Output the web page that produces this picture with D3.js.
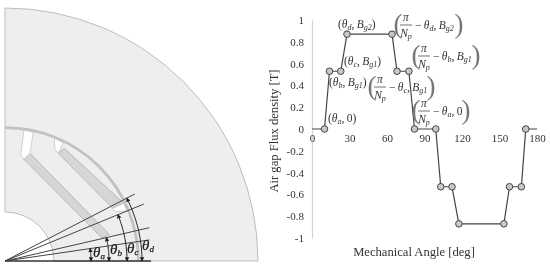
<!DOCTYPE html>
<html>
<head>
<meta charset="utf-8">
<script src="https://cdn.jsdelivr.net/npm/d3@7"></script>
<style>
  html, body { margin: 0; padding: 0; background: #fff; }
  #canvas { display: block; filter: blur(0.35px); }
  text { font-family: "Liberation Serif", serif; fill: #333; }
</style>
</head>
<body>
<svg id="canvas" width="550" height="268"></svg>
<script>
// flux density waveform
const angles = [0, 10, 14, 23, 28, 64, 68, 77.5, 82, 99, 103, 112, 117.5, 153.5, 158, 167.5, 171, 180];
const flux = [0, 0, 0.53, 0.53, 0.87, 0.87, 0.53, 0.53, 0, 0, -0.53, -0.53, -0.87, -0.87, -0.53, -0.53, 0, 0];
const markerIdx = [1, 2, 3, 4, 5, 6, 7, 8, 9, 10, 11, 12, 13, 14, 15, 16];
const xTicks = [0, 30, 60, 90, 120, 150, 180];
const yTicks = [-1, -0.8, -0.6, -0.4, -0.2, 0, 0.2, 0.4, 0.6, 0.8, 1];

// motor section, radii in px
const outerR = 253, gapR = 132, gapW = 2.8, shaftR = 49;
const rayAngles = [8.3, 13, 22.3, 27.3];
const rayLen = [146, 148, 150, 146];
const arcRadii = [86, 104, 122, 137];
const thetaNames = ["a", "b", "c", "d"];
const thetaLabels = [[93, 257], [110, 254], [127, 253], [142, 250]];

// magnet outlines in px from the shaft centre
const magnets = [
  [[25, 107.7], [19, 101.7], [97, 23], [104.5, 26.5]],
  [[59.3, 112.7], [53.3, 107.7], [107.7, 52.7], [117.7, 58.7]],
];
const pockets = [
  [[19, 131], [28.3, 128.7], [25, 107.7], [19, 101.7], [15.7, 106]],
  [[49.3, 122.7], [58.3, 118.3], [53.3, 107.7], [50, 111.7]],
  [[107.7, 52.7], [110.7, 49.3], [121.7, 50], [119, 57.7]],
];

const svg = d3.select("#canvas");

// left panel: motor section
const cx = 5, cy = 261;
const deg = (a) => (a * Math.PI) / 180;
const polar = (r, a) => [cx + r * Math.cos(deg(a)), cy - r * Math.sin(deg(a))];
const section = svg.append("g");
const quarter = d3.arc().startAngle(0).endAngle(Math.PI / 2);

section.append("path")
  .attr("transform", `translate(${cx},${cy})`)
  .attr("d", quarter({ innerRadius: shaftR, outerRadius: outerR }))
  .style("fill", "#eeeeee")
  .style("stroke", "#bdbdbd");

section.append("path")
  .attr("transform", `translate(${cx},${cy})`)
  .attr("d", quarter({ innerRadius: gapR, outerRadius: gapR + gapW }))
  .style("fill", "#c2c2c2");

const poly = d3.line().x((d) => cx + d[0]).y((d) => cy - d[1]).curve(d3.curveLinearClosed);

section.selectAll("path.magnet").data(magnets).join("path")
  .attr("class", "magnet")
  .attr("d", poly)
  .style("fill", "#d6d6d6")
  .style("stroke", "#a8a8a8")
  .style("stroke-width", 0.7);

section.selectAll("path.pocket").data(pockets).join("path")
  .attr("class", "pocket")
  .attr("d", poly)
  .style("fill", "#fff")
  .style("stroke", "#b5b5b5")
  .style("stroke-width", 0.6);

section.append("line")
  .attr("x1", cx).attr("y1", cy).attr("x2", cx + 146).attr("y2", cy)
  .style("stroke", "#333").style("stroke-width", 1.6);

section.selectAll("line.ray").data(rayAngles).join("line")
  .attr("class", "ray")
  .attr("x1", cx).attr("y1", cy)
  .attr("x2", (d, i) => polar(rayLen[i], d)[0])
  .attr("y2", (d, i) => polar(rayLen[i], d)[1])
  .style("stroke", "#444").style("stroke-width", 1);

const defs = svg.append("defs");
defs.append("marker")
  .attr("id", "tip").attr("viewBox", "0 0 6 6").attr("refX", 5).attr("refY", 3)
  .attr("markerWidth", 4.5).attr("markerHeight", 4.5).attr("orient", "auto-start-reverse")
  .attr("markerUnits", "userSpaceOnUse")
  .append("path").attr("d", "M0,0L6,3L0,6Z").style("fill", "#222");

const arcLine = d3.line();
section.selectAll("path.dim").data(rayAngles).join("path")
  .attr("class", "dim")
  .attr("d", (a, i) => arcLine(d3.range(0, 21).map((k) => polar(arcRadii[i], (a * k) / 20))))
  .attr("marker-start", "url(#tip)")
  .attr("marker-end", "url(#tip)")
  .style("fill", "none")
  .style("stroke", "#222")
  .style("stroke-width", 1);

thetaNames.forEach((n, i) => {
  const t = section.append("text")
    .attr("x", thetaLabels[i][0]).attr("y", thetaLabels[i][1])
    .style("font-size", "15px").style("font-style", "italic")
    .style("fill", "#222").style("stroke", "#222").style("stroke-width", 0.25);
  t.append("tspan").text("θ");
  t.append("tspan").attr("dy", 2).style("font-size", "9px").text(n);
});

// right panel: waveform
const x = d3.scaleLinear().domain([0, 180]).range([312, 537]);
const y = d3.scaleLinear().domain([-1, 1]).range([238, 20]);

const yAxis = svg.append("g")
  .attr("transform", `translate(${x(0)},0)`)
  .call(d3.axisLeft(y).tickValues(yTicks).tickSize(0).tickPadding(8).tickFormat((d) => String(d)));
yAxis.select(".domain").style("stroke", "#d4d4d4").style("stroke-width", 1.2);
yAxis.selectAll("text").style("font-size", "11px").style("font-family", '"Liberation Serif", serif').style("fill", "#333");

const xAxis = svg.append("g")
  .attr("transform", `translate(0,${y(0)})`)
  .call(d3.axisBottom(x).tickValues(xTicks).tickSize(0).tickPadding(5));
xAxis.select(".domain").remove();
xAxis.selectAll("text").style("font-size", "11px").style("font-family", '"Liberation Serif", serif').style("fill", "#333");

svg.append("path")
  .attr("d", d3.line().x((d, i) => x(angles[i])).y((d) => y(d))(flux))
  .style("fill", "none")
  .style("stroke", "#444")
  .style("stroke-width", 1.2);

svg.selectAll("circle.pt").data(markerIdx).join("circle")
  .attr("class", "pt")
  .attr("cx", (i) => x(angles[i]))
  .attr("cy", (i) => y(flux[i]))
  .attr("r", 3.3)
  .style("fill", "#c8c8c8")
  .style("stroke", "#444")
  .style("stroke-width", 1);

svg.append("text")
  .attr("transform", "translate(278,131) rotate(-90)")
  .attr("text-anchor", "middle")
  .style("font-size", "12.6px")
  .text("Air gap Flux density [T]");

svg.append("text")
  .attr("x", 414).attr("y", 256)
  .attr("text-anchor", "middle")
  .style("font-size", "12.6px")
  .text("Mechanical Angle [deg]");

// annotations
const small = 11.5;
function runs(g, px, py, parts) {
  const t = g.append("text").attr("x", px).attr("y", py).style("font-size", small + "px");
  parts.forEach(([s, kind]) => {
    const sp = t.append("tspan").text(s);
    if (kind === "i") sp.style("font-style", "italic");
    if (kind === "s") sp.attr("dy", 2).style("font-size", "8px").style("font-style", "italic");
    if (kind === "u") sp.attr("dy", -2);
  });
  return t;
}
const pointParts = (th, b) =>
  [["θ", "i"], [th, "s"], [",\u2009", "u"]].concat(
    b === null ? [["0", ""]] : [["B", "i"], ["g" + b, "s"], ["", "u"]]
  );

const simpleLabels = [
  [338, 28, "d", 2],
  [344, 65, "c", 1],
  [329, 86, "b", 1],
  [328, 122, "a", null],
];
simpleLabels.forEach(([px, py, th, b]) => {
  const g = svg.append("g");
  runs(g, px, py, [["(", ""]].concat(pointParts(th, b), [[")", b === null ? "" : "u"]]));
});

// paren x, right paren x, baseline, name, field
const fracLabels = [
  [395, 460, 29, "d", 2],
  [413, 477, 60, "b", 1],
  [369, 432, 91, "c", 1],
  [413, 467, 115, "a", null],
];
fracLabels.forEach(([l, r, py, th, b]) => {
  const g = svg.append("g");
  const big = (px, s) =>
    g.append("text")
      .attr("x", px).attr("y", py + 4)
      .attr("text-anchor", "middle")
      .style("font-size", "27px")
      .style("fill", "#777")
      .text(s);
  big(l + 3, "(");
  big(r - 1, ")");
  const fc = l + 11;
  g.append("text").attr("x", fc).attr("y", py - 8).attr("text-anchor", "middle")
    .style("font-size", small + "px").style("font-style", "italic").text("π");
  g.append("line").attr("x1", fc - 6).attr("x2", fc + 6).attr("y1", py - 4).attr("y2", py - 4)
    .style("stroke", "#333").style("stroke-width", 0.7);
  const np = g.append("text").attr("x", fc).attr("y", py + 8).attr("text-anchor", "middle")
    .style("font-size", small + "px").style("font-style", "italic");
  np.append("tspan").text("N");
  np.append("tspan").attr("dy", 2).style("font-size", "8px").text("p");
  runs(g, fc + 9, py, [["−\u2009", ""]].concat(pointParts(th, b)));
});
</script>
</body>
</html>
